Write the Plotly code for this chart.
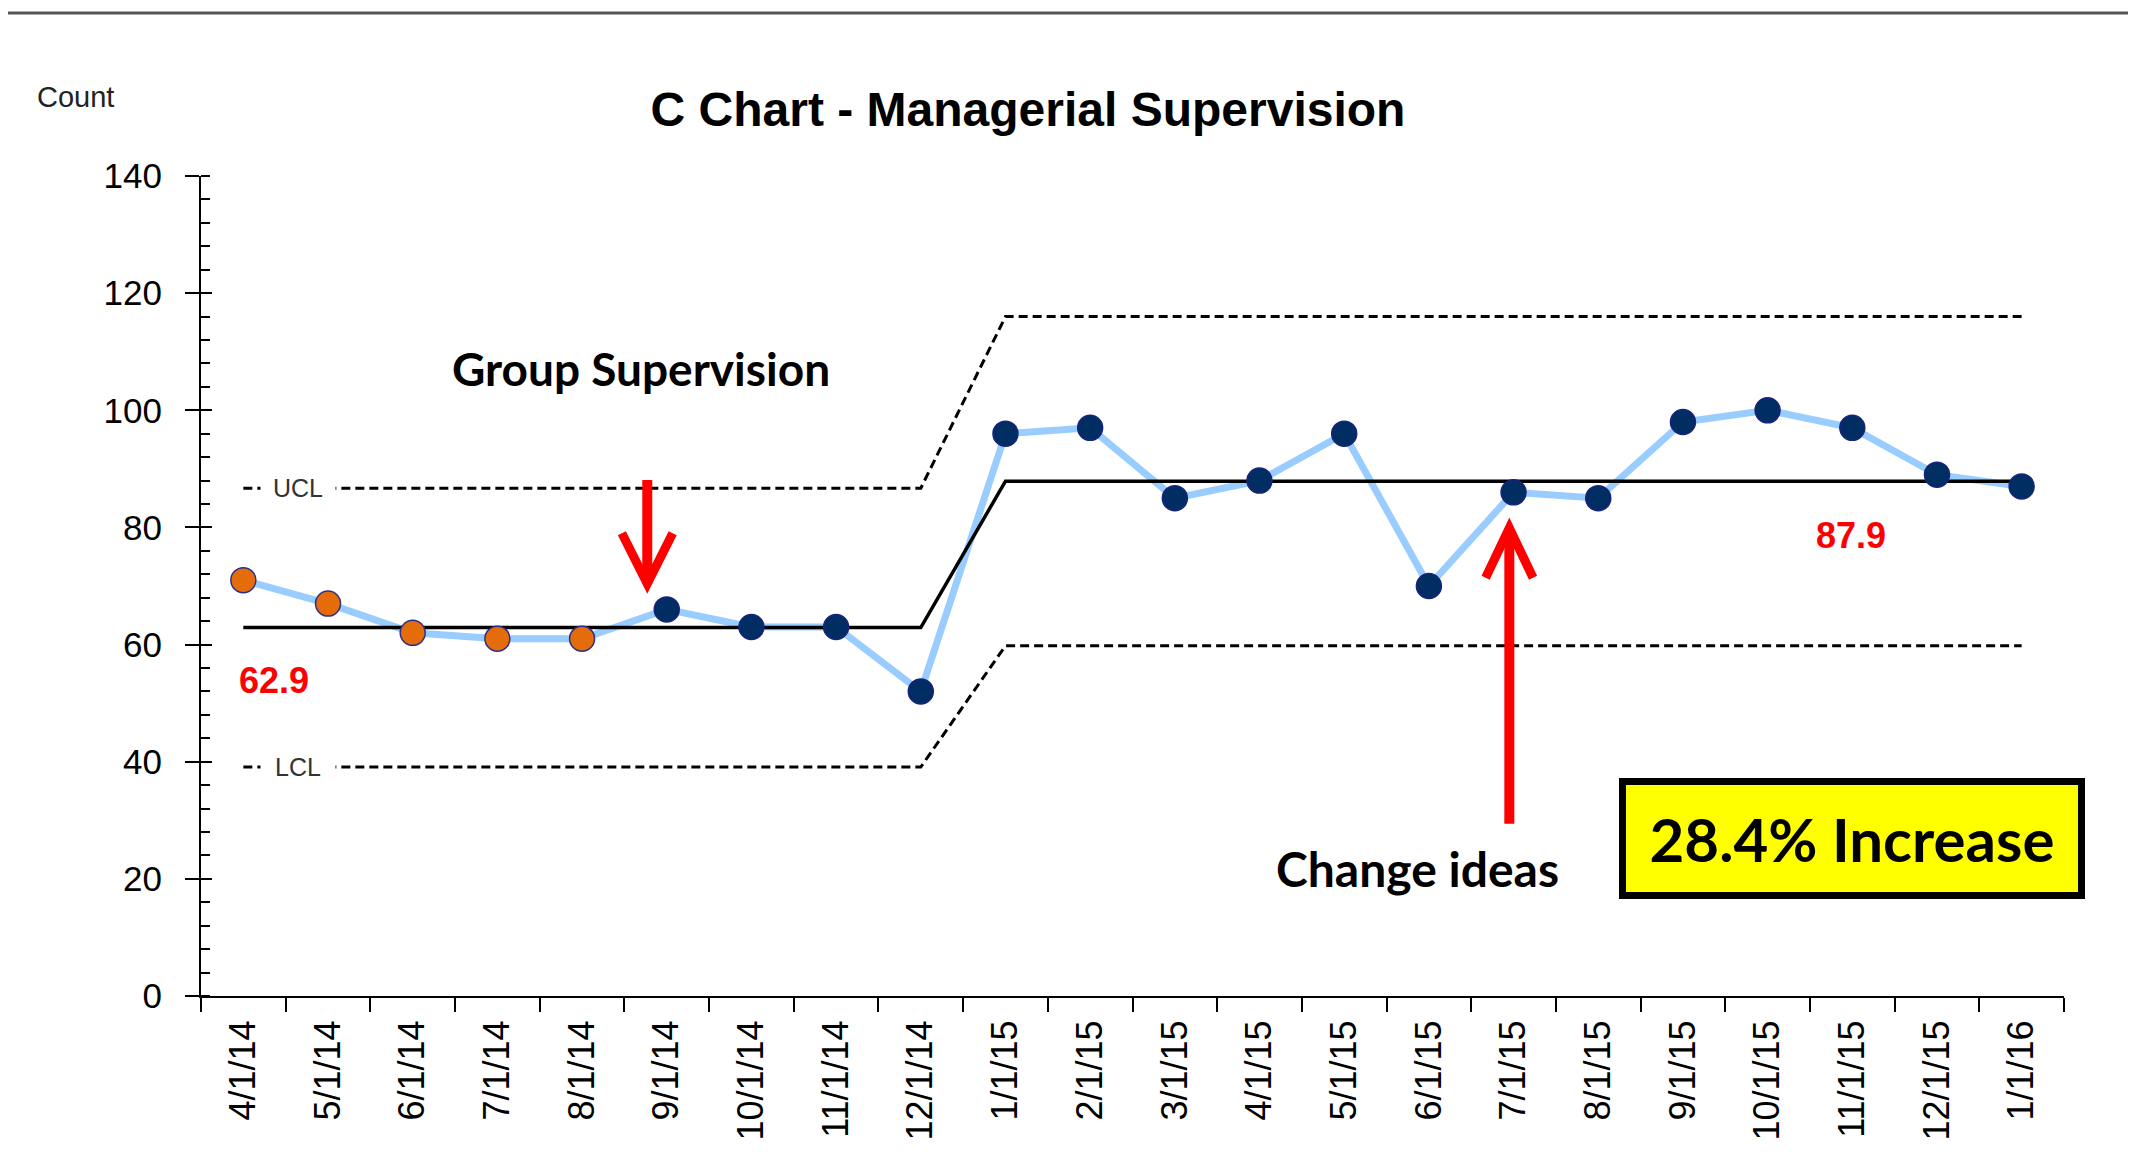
import plotly.graph_objects as go

# C chart data: monthly counts with control limits
months = ["4/1/14", "5/1/14", "6/1/14", "7/1/14", "8/1/14", "9/1/14", "10/1/14",
          "11/1/14", "12/1/14", "1/1/15", "2/1/15", "3/1/15", "4/1/15", "5/1/15",
          "6/1/15", "7/1/15", "8/1/15", "9/1/15", "10/1/15", "11/1/15", "12/1/15", "1/1/16"]
counts = [71, 67, 62, 61, 61, 66, 63, 63, 52, 96, 97, 85, 88, 96, 70, 86, 85, 98, 100, 97, 89, 87]
center = [62.9, 62.9, 62.9, 62.9, 62.9, 62.9, 62.9, 62.9, 62.9,
          87.9, 87.9, 87.9, 87.9, 87.9, 87.9, 87.9, 87.9, 87.9, 87.9, 87.9, 87.9, 87.9]
ucl = [86.7, 86.7, 86.7, 86.7, 86.7, 86.7, 86.7, 86.7, 86.7,
       116.0, 116.0, 116.0, 116.0, 116.0, 116.0, 116.0, 116.0, 116.0, 116.0, 116.0, 116.0, 116.0]
lcl = [39.1, 39.1, 39.1, 39.1, 39.1, 39.1, 39.1, 39.1, 39.1,
       59.8, 59.8, 59.8, 59.8, 59.8, 59.8, 59.8, 59.8, 59.8, 59.8, 59.8, 59.8, 59.8]
n_orange = 5  # first points drawn in orange

ORANGE = "#E46C0A"
NAVY = "#002D62"
LIGHTBLUE = "#99CCFF"
RED = "#FF0000"

# page body has an 8px margin, so the figure is a bit smaller than the window
W, H = 2128, 1149

fig = go.Figure()

# data line underneath
fig.add_trace(go.Scatter(x=months, y=counts, mode="lines",
                         line=dict(color=LIGHTBLUE, width=7), hoverinfo="skip"))

# limits + center line
fig.add_trace(go.Scatter(x=months, y=ucl, mode="lines",
                         line=dict(color="black", width=3, dash="9px,5px")))
fig.add_trace(go.Scatter(x=months, y=lcl, mode="lines",
                         line=dict(color="black", width=3, dash="9px,5px")))
fig.add_trace(go.Scatter(x=months, y=center, mode="lines",
                         line=dict(color="black", width=3.5)))

# markers on top
fig.add_trace(go.Scatter(x=months[:n_orange], y=counts[:n_orange], mode="markers",
                         marker=dict(size=25, color=ORANGE, line=dict(color="#2B2F8A", width=1.5))))
fig.add_trace(go.Scatter(x=months[n_orange:], y=counts[n_orange:], mode="markers",
                         marker=dict(size=25, color=NAVY, line=dict(color="#1A237E", width=1.5))))

# dummy trace so the overlay axis (inner half of major ticks) is drawn
fig.add_trace(go.Scatter(x=[months[0]], y=[None], yaxis="y2", mode="lines", hoverinfo="skip"))

shapes = [
    # top rule across the page
    dict(type="line", xref="paper", yref="paper", x0=-0.11, x1=1.04, y0=1.1988, y1=1.1988,
         line=dict(color="#555555", width=3)),
    # down arrow (Group Supervision)
    dict(type="line", x0=4.77, x1=4.77, y0=88.1, y1=71.0, line=dict(color=RED, width=10)),
    dict(type="path", path="M 4.47,79.0 L 4.77,70.4 L 5.07,79.0",
         line=dict(color=RED, width=9)),
    # up arrow (Change ideas)
    dict(type="line", x0=14.95, x1=14.95, y0=29.4, y1=79.3, line=dict(color=RED, width=10)),
    dict(type="path", path="M 14.67,71.4 L 14.95,79.9 L 15.23,71.4",
         line=dict(color=RED, width=9)),
]

annotations = [
    dict(text="Count", xref="paper", yref="paper", x=-0.0891, y=1.0963, xanchor="left",
         yanchor="middle", showarrow=False,
         font=dict(family="Liberation Sans", size=29, color="#222222")),
    dict(text="UCL", x=0.64, y=86.7, showarrow=False, bgcolor="white", width=72, height=24,
         font=dict(family="Liberation Sans", size=25, color="#333333")),
    dict(text="LCL", x=0.64, y=39.1, showarrow=False, bgcolor="white", width=72, height=24,
         font=dict(family="Liberation Sans", size=25, color="#333333")),
    dict(text="<b>62.9</b>", x=0.36, y=53.9, showarrow=False,
         font=dict(family="Liberation Sans", size=36, color=RED)),
    dict(text="<b>87.9</b>", x=18.99, y=78.7, showarrow=False,
         font=dict(family="Liberation Sans", size=36, color=RED)),
    dict(text="<b>Group Supervision</b>", x=4.69, y=107.2, showarrow=False,
         font=dict(family="Lato", size=46, color="black")),
    dict(text="<b>Change ideas</b>", x=13.86, y=21.7, showarrow=False,
         font=dict(family="Lato", size=48, color="black")),
    dict(text="<b>28.4% Increase</b>", x=19.0, y=26.9, showarrow=False,
         bgcolor="#FFFF00", bordercolor="black", borderwidth=7, borderpad=6,
         width=440, height=95,
         font=dict(family="Lato", size=60, color="black")),
]

fig.update_layout(
    width=W, height=H,
    margin=dict(l=193, r=72, t=168, b=161),
    paper_bgcolor="white", plot_bgcolor="white",
    showlegend=False,
    title=dict(text="<b>C Chart - Managerial Supervision</b>", x=1020 / W, y=1 - 101 / H,
               xref="container", yref="container", xanchor="center", yanchor="middle",
               font=dict(family="Liberation Sans", size=48, color="black")),
    xaxis=dict(type="category", range=[-0.5, 21.5], tickangle=-90, ticks="outside",
               tickson="boundaries", ticklen=14, tickwidth=2, tickcolor="black",
               showline=True, linecolor="black", linewidth=2, showgrid=False,
               zeroline=False, ticklabelstandoff=8,
               tickfont=dict(family="Liberation Sans", size=36, color="black")),
    yaxis=dict(range=[0, 140], dtick=20, ticks="outside", ticklen=14, tickwidth=2,
               tickcolor="black", showline=True, linecolor="black", linewidth=2,
               showgrid=False, zeroline=False, ticklabelstandoff=16,
               minor=dict(dtick=4, ticks="inside", ticklen=9, tickwidth=1.5, tickcolor="black"),
               tickfont=dict(family="Liberation Sans", size=35, color="black")),
    yaxis2=dict(range=[0, 140], dtick=20, overlaying="y", side="left", ticks="inside",
                ticklen=11, tickwidth=2, tickcolor="black", showticklabels=False,
                showline=False, showgrid=False, zeroline=False),
    shapes=shapes,
    annotations=annotations,
)

fig.write_html("out.html")
